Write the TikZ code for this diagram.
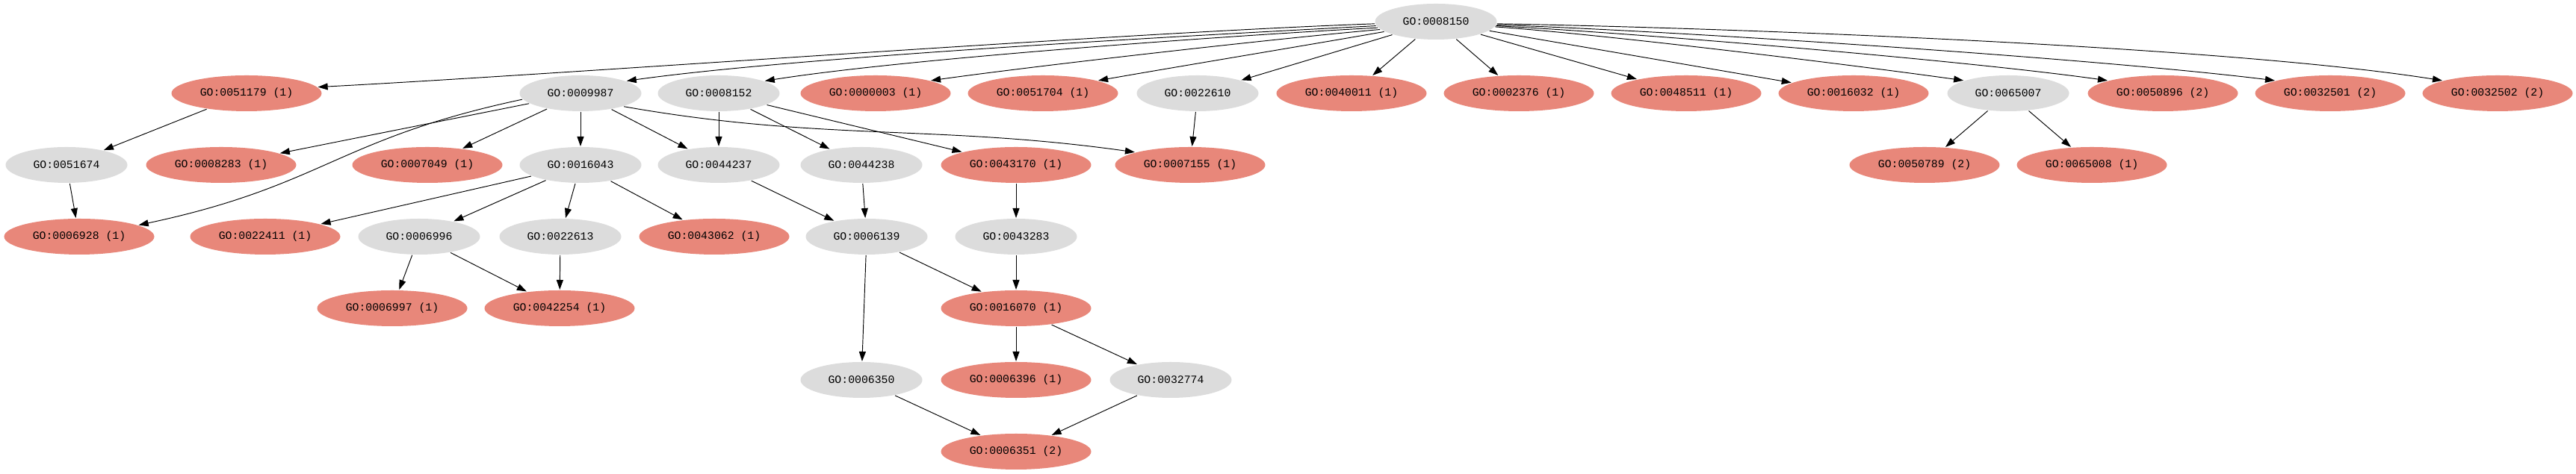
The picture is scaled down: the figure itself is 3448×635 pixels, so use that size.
\documentclass[tikz,border=0pt]{standalone}
\usepackage{fontspec}
\setmonofont{Liberation Mono}
\usepackage{tikz}
\usetikzlibrary{arrows.meta,shapes.geometric}
\definecolor{Salmon}{HTML}{E8877A}
\definecolor{Gainsboro}{HTML}{DCDCDC}
\tikzset{
  term/.style={ellipse, draw=none, fill=Gainsboro, minimum width=32.6pt, minimum height=9.6pt, inner sep=0pt, font=\ttfamily\fontsize{2.96}{3.2}\selectfont},
  hit/.style={term, fill=Salmon, minimum width=40.2pt},
  arrow/.style={-{Triangle[length=2.6pt,width=1.8pt]}, line width=0.19pt, draw=black}
}
\begin{document}
\begin{tikzpicture}[x=0.2pt,y=0.2pt]
  \useasboundingbox (0,0) rectangle (3448,-635);

  \node[term] (go0008150) at (1922,-29) {GO:0008150};

  \node[hit]  (go0051179) at (330,-125)  {GO:0051179 (1)};
  \node[term] (go0009987) at (777,-125)  {GO:0009987};
  \node[term] (go0008152) at (962,-125)  {GO:0008152};
  \node[hit]  (go0000003) at (1172,-125) {GO:0000003 (1)};
  \node[hit]  (go0051704) at (1396,-125) {GO:0051704 (1)};
  \node[term] (go0022610) at (1603,-125) {GO:0022610};
  \node[hit]  (go0040011) at (1809,-125) {GO:0040011 (1)};
  \node[hit]  (go0002376) at (2033,-125) {GO:0002376 (1)};
  \node[hit]  (go0048511) at (2257,-125) {GO:0048511 (1)};
  \node[hit]  (go0016032) at (2481,-125) {GO:0016032 (1)};
  \node[term] (go0065007) at (2688,-125) {GO:0065007};
  \node[hit]  (go0050896) at (2895,-125) {GO:0050896 (2)};
  \node[hit]  (go0032501) at (3119,-125) {GO:0032501 (2)};
  \node[hit]  (go0032502) at (3343,-125) {GO:0032502 (2)};

  \node[term] (go0051674) at (89,-221)   {GO:0051674};
  \node[hit]  (go0008283) at (296,-221)  {GO:0008283 (1)};
  \node[hit]  (go0007049) at (572,-221)  {GO:0007049 (1)};
  \node[term] (go0016043) at (777,-221)  {GO:0016043};
  \node[term] (go0044237) at (962,-221)  {GO:0044237};
  \node[term] (go0044238) at (1153,-221) {GO:0044238};
  \node[hit]  (go0043170) at (1360,-221) {GO:0043170 (1)};
  \node[hit]  (go0007155) at (1593,-221) {GO:0007155 (1)};
  \node[hit]  (go0050789) at (2576,-221) {GO:0050789 (2)};
  \node[hit]  (go0065008) at (2800,-221) {GO:0065008 (1)};

  \node[hit]  (go0006928) at (106,-317)  {GO:0006928 (1)};
  \node[hit]  (go0022411) at (355,-317)  {GO:0022411 (1)};
  \node[term] (go0006996) at (561,-317)  {GO:0006996};
  \node[term] (go0022613) at (750,-317)  {GO:0022613};
  \node[hit]  (go0043062) at (956,-317)  {GO:0043062 (1)};
  \node[term] (go0006139) at (1160,-317) {GO:0006139};
  \node[term] (go0043283) at (1360,-317) {GO:0043283};

  \node[hit]  (go0006997) at (525,-413)  {GO:0006997 (1)};
  \node[hit]  (go0042254) at (749,-413)  {GO:0042254 (1)};
  \node[hit]  (go0016070) at (1360,-413) {GO:0016070 (1)};

  \node[term] (go0006350) at (1153,-509) {GO:0006350};
  \node[hit]  (go0006396) at (1360,-509) {GO:0006396 (1)};
  \node[term] (go0032774) at (1567,-509) {GO:0032774};

  \node[hit]  (go0006351) at (1360,-605) {GO:0006351 (2)};

  \draw[arrow] (go0008150.182) to[out=182,in=3,looseness=0.6] (go0051179.5);
  \draw[arrow] (go0008150.184) to[out=183,in=8,looseness=0.6] (go0009987.15);
  \draw[arrow] (go0008150.186) to[out=183,in=9,looseness=0.6] (go0008152.15);
  \draw[arrow] (go0008150.188) to[out=185,in=8,looseness=0.6] (go0000003.13);
  \draw[arrow] (go0008150.191) to[out=190,in=10,looseness=0.6] (go0051704.13);
  \draw[arrow] (go0008150) -- (go0022610);
  \draw[arrow] (go0008150) -- (go0040011);
  \draw[arrow] (go0008150) -- (go0002376);
  \draw[arrow] (go0008150) -- (go0048511);
  \draw[arrow] (go0008150) -- (go0016032);
  \draw[arrow] (go0008150.-5) to[out=-4,in=172,looseness=0.6] (go0065007.164);
  \draw[arrow] (go0008150.-4) to[out=-3,in=172,looseness=0.6] (go0050896.167);
  \draw[arrow] (go0008150.-3) to[out=-2,in=173,looseness=0.6] (go0032501.167);
  \draw[arrow] (go0008150.-2) to[out=-1,in=171,looseness=0.6] (go0032502.167);

  \draw[arrow] (go0051179) -- (go0051674);
  \draw[arrow] (go0051674) -- (go0006928);
  \draw[arrow] (go0009987.186) to[out=192,in=12,looseness=1.2] (go0006928.11);
  \draw[arrow] (go0009987) -- (go0008283);
  \draw[arrow] (go0009987) -- (go0007049);
  \draw[arrow] (go0009987) -- (go0016043);
  \draw[arrow] (go0009987) -- (go0044237);
  \draw[arrow] (go0009987.-17) to[out=-10,in=172] (go0007155.167);
  \draw[arrow] (go0008152) -- (go0044237);
  \draw[arrow] (go0008152) -- (go0044238);
  \draw[arrow] (go0008152) -- (go0043170);
  \draw[arrow] (go0022610) -- (go0007155);
  \draw[arrow] (go0065007) -- (go0050789);
  \draw[arrow] (go0065007) -- (go0065008);

  \draw[arrow] (go0016043) -- (go0022411);
  \draw[arrow] (go0016043) -- (go0006996);
  \draw[arrow] (go0016043) -- (go0022613);
  \draw[arrow] (go0016043) -- (go0043062);
  \draw[arrow] (go0044237) -- (go0006139);
  \draw[arrow] (go0044238) -- (go0006139);
  \draw[arrow] (go0043170) -- (go0043283);

  \draw[arrow] (go0006996) -- (go0006997);
  \draw[arrow] (go0006996) -- (go0042254);
  \draw[arrow] (go0022613) -- (go0042254);
  \draw[arrow] (go0006139) -- (go0016070);
  \draw[arrow] (go0006139) -- (go0006350);
  \draw[arrow] (go0043283) -- (go0016070);

  \draw[arrow] (go0016070) -- (go0006396);
  \draw[arrow] (go0016070) -- (go0032774);
  \draw[arrow] (go0006350) -- (go0006351);
  \draw[arrow] (go0032774) -- (go0006351);
\end{tikzpicture}
\end{document}
